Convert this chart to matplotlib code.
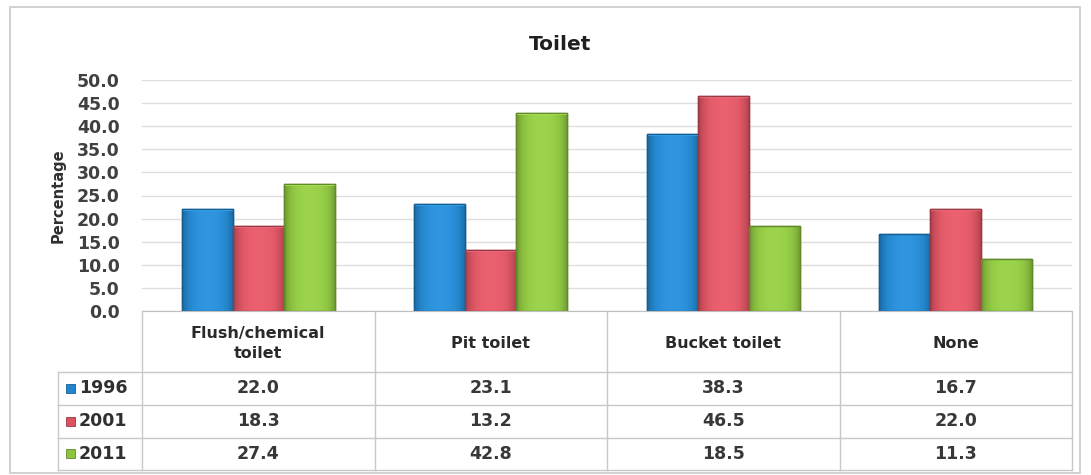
import numpy as np
import matplotlib
matplotlib.use("Agg")
import matplotlib.pyplot as plt
from matplotlib.patches import Rectangle
from matplotlib.colors import to_rgb

# ---- data ----
categories = ["Flush/chemical\ntoilet", "Pit toilet", "Bucket toilet", "None"]
years = ["1996", "2001", "2011"]
values_1996 = [22.0, 23.1, 38.3, 16.7]
values_2001 = [18.3, 13.2, 46.5, 22.0]
values_2011 = [27.4, 42.8, 18.5, 11.3]
series = [values_1996, values_2001, values_2011]
colors = ["#1f86cf", "#dc5160", "#8cc43d"]
y_ticks = np.arange(0, 50.1, 5)

W, H = 1091, 475
fig = plt.figure(figsize=(W / 100, H / 100), dpi=100)
fig.patch.set_facecolor("white")

def fx(px):
    return px / W

def fy(py):
    return 1 - py / H

# chart frame
fig.add_artist(Rectangle((fx(10), fy(473)), fx(1070), (466) / H,
                         transform=fig.transFigure, fill=False,
                         edgecolor="#c9c9c9", lw=1.2))

left, right, top, zero, tbl_bottom = 142, 1072, 80, 311, 470
ax = fig.add_axes([fx(left), fy(zero), (right - left) / W, (zero - top) / H])
ax.set_xlim(0, len(categories))
ax.set_ylim(0, 50)
ax.set_yticks(y_ticks)
ax.set_yticklabels([f"{v:.1f}" for v in y_ticks], fontsize=12.5,
                   fontweight="bold", color="#404040")
ax.tick_params(axis="y", length=0, pad=16)
ax.set_xticks([])
for s in ["top", "right", "left"]:
    ax.spines[s].set_visible(False)
ax.spines["bottom"].set_color("#bfbfbf")
ax.yaxis.grid(True, color="#dedede", lw=1)
ax.set_axisbelow(True)
ax.set_ylabel("Percentage", fontsize=10.5, fontweight="bold", color="#303030",
              labelpad=4)
ax.yaxis.set_label_coords(-0.082, 0.5)

bar_w = 0.22
x = np.arange(len(categories)) + 0.5

def shade(c, f):
    r = np.array(to_rgb(c))
    return np.clip(r * f, 0, 1)

for i, (vals, col) in enumerate(zip(series, colors)):
    bars = ax.bar(x + (i - 1) * bar_w, vals, width=bar_w, color=col,
                  edgecolor=shade(col, 0.7), lw=1.0, zorder=2)
    base = np.array(to_rgb(col))
    # horizontal shading across each bar
    t = np.linspace(-1, 1, 64)
    prof = 1.0 - 0.22 * t ** 4
    grad = np.clip(base[None, :] * prof[:, None] + 0.06 * (1 - t[:, None] ** 2), 0, 1)
    img = grad[None, :, :]
    for b in bars:
        bx, by = b.get_x(), b.get_y()
        bw, bh = b.get_width(), b.get_height()
        im = ax.imshow(img, extent=[bx, bx + bw, by, by + bh], aspect="auto",
                       zorder=2.5, interpolation="bilinear")
        im.set_clip_path(b)
        ax.add_patch(Rectangle((bx, by), bw, bh, fill=False,
                               edgecolor=shade(col, 0.7), lw=1.0, zorder=3))
        # light cap on top
        ax.add_patch(Rectangle((bx, by + bh - 0.35), bw, 0.35,
                               facecolor=np.clip(base * 1.15 + 0.1, 0, 1),
                               edgecolor="none", zorder=2.8, alpha=0.8))
ax.set_xlim(0, len(categories))
ax.set_ylim(0, 50)

# ---- data table ----
tax = fig.add_axes([fx(left), fy(tbl_bottom), (right - left) / W,
                    (tbl_bottom - zero) / H])
tax.set_xlim(0, len(categories))
tax.set_ylim(tbl_bottom, zero)
tax.axis("off")
unit = (right - left) / len(categories)
lab_left = (58 - left) / unit
row_lines = [372, 405, 438, tbl_bottom]
line_kw = dict(color="#c8c8c8", lw=1.0, clip_on=False)

for k in range(len(categories) + 1):
    tax.plot([k, k], [zero, tbl_bottom], **line_kw)
tax.plot([lab_left, lab_left], [row_lines[0], tbl_bottom], **line_kw)
for yl in row_lines:
    tax.plot([lab_left, len(categories)], [yl, yl], **line_kw)

for j, cat in enumerate(categories):
    tax.text(j + 0.5, (zero + row_lines[0]) / 2 + 2, cat, ha="center",
             va="center", fontsize=11.5, fontweight="bold", color="#2a2a2a",
             linespacing=1.35)

for i, (yr, vals, col) in enumerate(zip(years, series, colors)):
    yc = (row_lines[i] + row_lines[i + 1]) / 2
    sq = 9
    tax.add_patch(Rectangle(((66 - left) / unit, yc - sq / 2), sq / unit, sq,
                            facecolor=col, edgecolor=shade(col, 0.7), lw=0.6,
                            clip_on=False))
    tax.text((79 - left) / unit, yc, yr, ha="left", va="center",
             fontsize=12.5, fontweight="bold", color="#303030")
    for j, v in enumerate(vals):
        tax.text(j + 0.5, yc, f"{v:.1f}", ha="center", va="center",
                 fontsize=12.5, fontweight="bold", color="#383838")

fig.text(fx(560), fy(45), "Toilet", ha="center", va="center", fontsize=14.5,
         fontweight="bold", color="#202020")

fig.savefig("out.png", dpi=100)
